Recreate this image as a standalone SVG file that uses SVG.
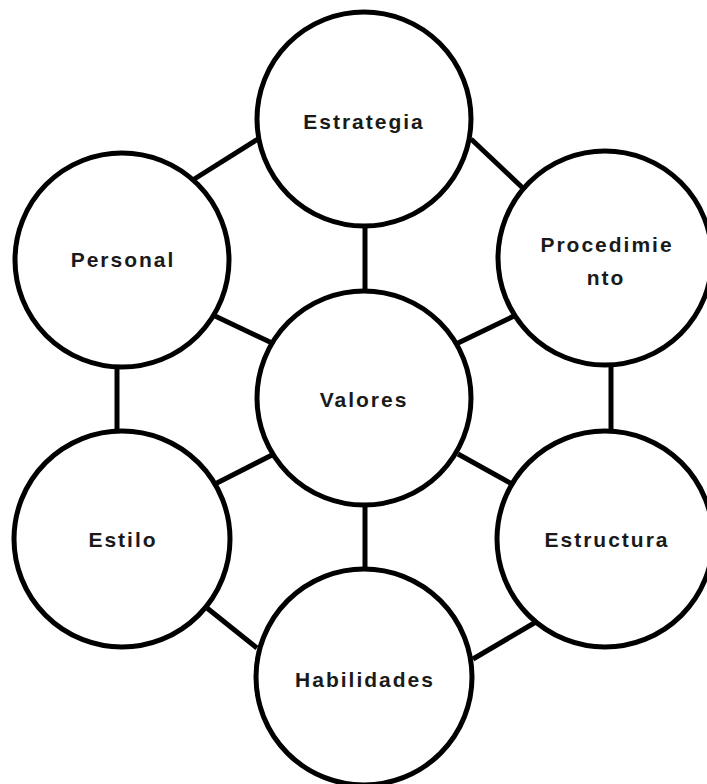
<svg xmlns="http://www.w3.org/2000/svg" width="707" height="784" viewBox="0 0 707 784">
<style>
.c{fill:#fff;stroke:#000;stroke-width:5}
.l{stroke:#000;stroke-width:5;fill:none}
.t{font-family:"Liberation Sans",Arial,sans-serif;font-weight:bold;font-size:21px;letter-spacing:2px;fill:#1a1a1a;text-anchor:middle}
</style>
<rect width="707" height="784" fill="#fff"/>
<g id="connectors">
<line class="l" x1="365" y1="222" x2="365" y2="295"/>
<line class="l" x1="188" y1="183" x2="258" y2="139"/>
<line class="l" x1="471" y1="139" x2="527" y2="192"/>
<line class="l" x1="215" y1="316" x2="272" y2="343"/>
<line class="l" x1="456" y1="344" x2="514" y2="316"/>
<line class="l" x1="117" y1="358" x2="117" y2="442"/>
<line class="l" x1="611" y1="358" x2="611" y2="431"/>
<line class="l" x1="215" y1="484" x2="272" y2="455"/>
<line class="l" x1="458" y1="454" x2="512" y2="484"/>
<line class="l" x1="365" y1="502" x2="365" y2="571"/>
<line class="l" x1="202" y1="604" x2="257" y2="648"/>
<line class="l" x1="473" y1="659" x2="541" y2="619"/>
</g>
<g id="estrategia">
<circle class="c" cx="364" cy="119" r="107"/>
<text class="t" x="364" y="129">Estrategia</text>
</g>
<g id="personal">
<circle class="c" cx="122" cy="260" r="107"/>
<text class="t" x="123" y="267">Personal</text>
</g>
<g id="procedimiento">
<circle class="c" cx="605" cy="258" r="107"/>
<text class="t" x="607" y="252">Procedimie</text>
<text class="t" x="606" y="285">nto</text>
</g>
<g id="valores">
<circle class="c" cx="364" cy="398" r="107"/>
<text class="t" x="364" y="407">Valores</text>
</g>
<g id="estilo">
<circle class="c" cx="122" cy="539" r="108"/>
<text class="t" x="123" y="547">Estilo</text>
</g>
<g id="estructura">
<circle class="c" cx="605" cy="539" r="108"/>
<text class="t" x="607" y="547">Estructura</text>
</g>
<g id="habilidades">
<circle class="c" cx="364" cy="677" r="108"/>
<text class="t" x="365" y="687">Habilidades</text>
</g>
</svg>
